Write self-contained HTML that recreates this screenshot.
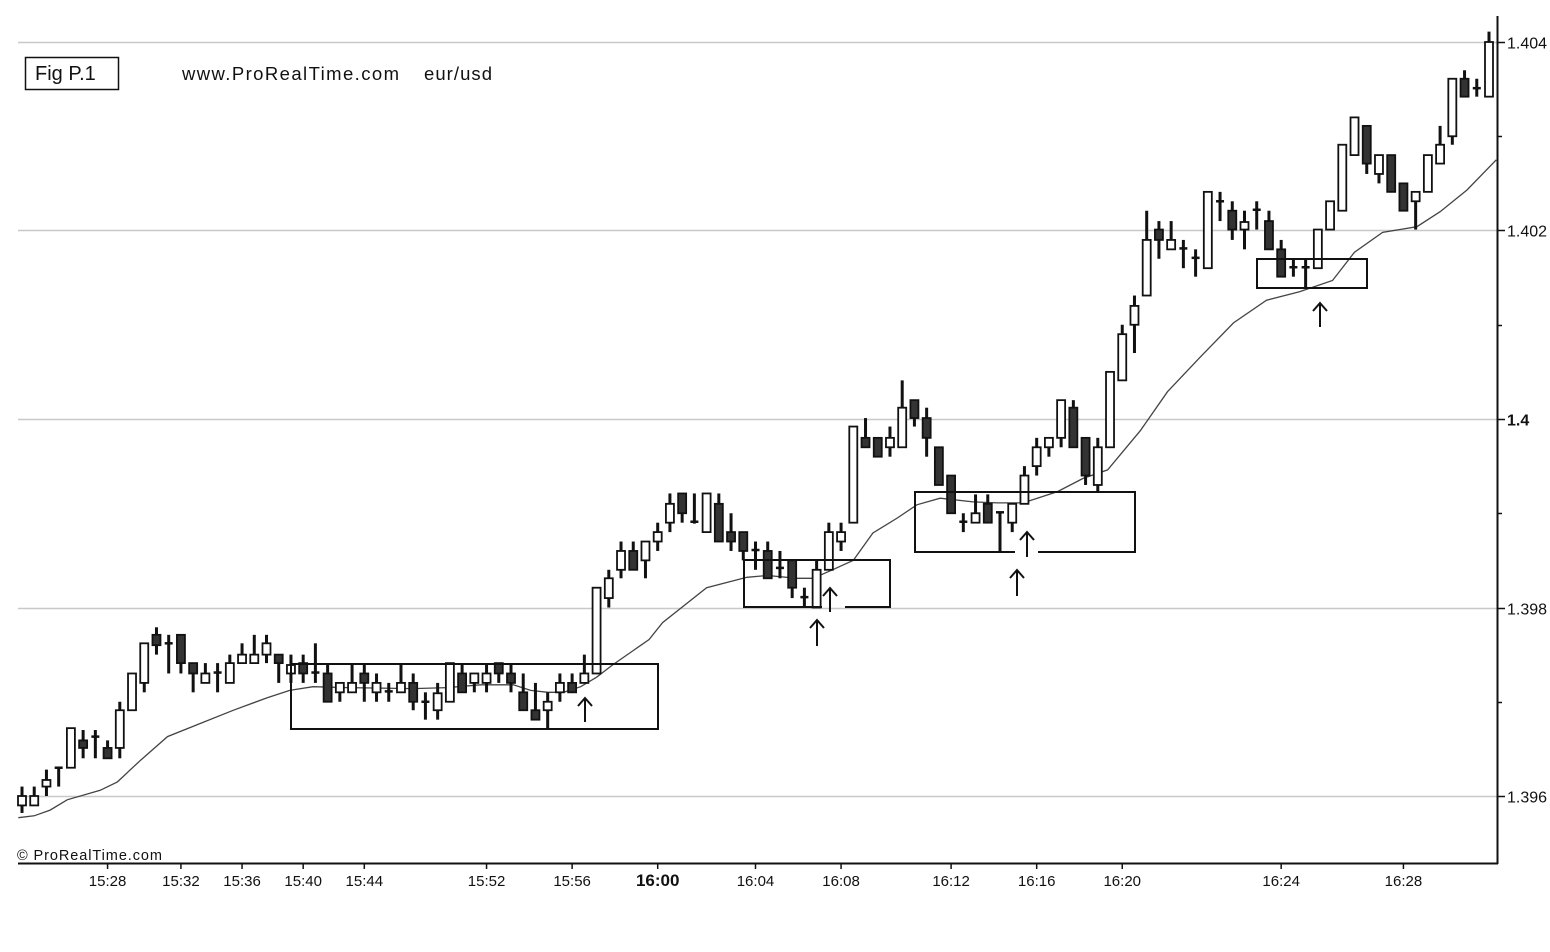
<!DOCTYPE html>
<html><head><meta charset="utf-8"><style>
body{margin:0;background:#fff;}
svg{display:block;font-family:"Liberation Sans",Arial,sans-serif;}
</style></head><body>
<svg id="chart" width="1550" height="952" viewBox="0 0 1550 952" xmlns="http://www.w3.org/2000/svg">
<rect x="0" y="0" width="1550" height="952" fill="#fff"/>
<g id="grid"></g>
<g id="ma"></g>
<g id="candles"></g>
<g id="annot" fill="none" stroke="#111" stroke-width="2">
<path d="M291 664H658V729H291Z"/>
<path d="M822 607H744V560H890V607H845"/>
<path d="M1015 552H915V492H1135V552H1038"/>
<path d="M1257 259H1367V288H1257Z"/>
</g>
<g id="arrows" fill="none" stroke="#111" stroke-width="2"></g>
<g id="axes"></g>
<rect x="25.5" y="57.5" width="93" height="32" fill="#fff" stroke="#111" stroke-width="1.5"/>
<text x="35" y="80" font-size="20" fill="#111">Fig P.1</text>
<text x="182" y="80" font-size="18.5" fill="#111" textLength="217">www.ProRealTime.com</text>
<text x="424" y="80" font-size="18.5" fill="#111" textLength="68">eur/usd</text>
<text x="17" y="860" font-size="14.5" fill="#111" textLength="145">© ProRealTime.com</text>
</svg>
<script>
const opens=[1.39590,1.39590,1.39610,1.39630,1.39630,1.39659,1.39663,1.39651,1.39651,1.39691,1.39720,1.39771,1.39762,1.39771,1.39741,1.39720,1.39731,1.39720,1.39741,1.39741,1.39750,1.39750,1.39730,1.39741,1.39731,1.39730,1.39710,1.39710,1.39730,1.39710,1.39711,1.39710,1.39720,1.39700,1.39691,1.39700,1.39730,1.39720,1.39720,1.39741,1.39730,1.39710,1.39691,1.39691,1.39710,1.39720,1.39720,1.39730,1.39810,1.39840,1.39860,1.39850,1.39870,1.39890,1.39921,1.39890,1.39880,1.39910,1.39880,1.39880,1.39861,1.39860,1.39842,1.39850,1.39811,1.39800,1.39840,1.39870,1.39890,1.39980,1.39980,1.39970,1.39970,1.40020,1.40001,1.39970,1.39940,1.39891,1.39890,1.39910,1.39901,1.39890,1.39910,1.39950,1.39970,1.39980,1.40012,1.39980,1.39930,1.39970,1.40041,1.40100,1.40131,1.40201,1.40180,1.40181,1.40171,1.40160,1.40231,1.40221,1.40201,1.40222,1.40210,1.40180,1.40161,1.40161,1.40160,1.40201,1.40221,1.40280,1.40311,1.40260,1.40280,1.40250,1.40231,1.40241,1.40271,1.40300,1.40361,1.40351,1.40342];
const highs=[1.39610,1.39610,1.39628,1.39630,1.39672,1.39670,1.39670,1.39659,1.39700,1.39730,1.39762,1.39779,1.39771,1.39771,1.39741,1.39741,1.39741,1.39750,1.39762,1.39771,1.39771,1.39750,1.39750,1.39750,1.39762,1.39741,1.39720,1.39741,1.39741,1.39730,1.39720,1.39741,1.39730,1.39710,1.39720,1.39741,1.39741,1.39730,1.39741,1.39741,1.39741,1.39730,1.39720,1.39710,1.39730,1.39730,1.39750,1.39821,1.39840,1.39870,1.39870,1.39870,1.39890,1.39921,1.39921,1.39921,1.39921,1.39921,1.39900,1.39880,1.39870,1.39870,1.39860,1.39850,1.39821,1.39850,1.39890,1.39890,1.39992,1.40001,1.39980,1.39992,1.40041,1.40020,1.40012,1.39970,1.39940,1.39900,1.39920,1.39920,1.39901,1.39910,1.39950,1.39980,1.39980,1.40020,1.40020,1.39980,1.39980,1.40050,1.40100,1.40131,1.40221,1.40210,1.40210,1.40190,1.40180,1.40241,1.40241,1.40231,1.40221,1.40231,1.40221,1.40190,1.40169,1.40169,1.40201,1.40231,1.40291,1.40320,1.40311,1.40280,1.40280,1.40250,1.40241,1.40280,1.40311,1.40361,1.40370,1.40361,1.40411];
const lows=[1.39582,1.39590,1.39600,1.39610,1.39630,1.39640,1.39640,1.39640,1.39640,1.39691,1.39710,1.39750,1.39730,1.39730,1.39710,1.39720,1.39710,1.39720,1.39741,1.39741,1.39741,1.39720,1.39720,1.39720,1.39720,1.39700,1.39700,1.39710,1.39700,1.39700,1.39700,1.39710,1.39691,1.39681,1.39681,1.39700,1.39710,1.39710,1.39710,1.39720,1.39710,1.39691,1.39681,1.39672,1.39700,1.39710,1.39720,1.39730,1.39800,1.39831,1.39840,1.39831,1.39860,1.39880,1.39890,1.39889,1.39880,1.39870,1.39860,1.39850,1.39840,1.39831,1.39831,1.39810,1.39800,1.39800,1.39840,1.39860,1.39890,1.39970,1.39960,1.39960,1.39970,1.39992,1.39960,1.39930,1.39900,1.39880,1.39890,1.39890,1.39859,1.39880,1.39910,1.39940,1.39960,1.39970,1.39970,1.39930,1.39923,1.39970,1.40041,1.40070,1.40131,1.40170,1.40180,1.40160,1.40151,1.40160,1.40210,1.40190,1.40180,1.40201,1.40180,1.40151,1.40151,1.40139,1.40160,1.40201,1.40221,1.40280,1.40260,1.40250,1.40241,1.40221,1.40201,1.40241,1.40271,1.40291,1.40342,1.40342,1.40342];
const closes=[1.39600,1.39600,1.39617,1.39629,1.39672,1.39651,1.39663,1.39640,1.39691,1.39730,1.39762,1.39760,1.39762,1.39741,1.39730,1.39730,1.39731,1.39741,1.39750,1.39750,1.39762,1.39741,1.39739,1.39730,1.39731,1.39700,1.39720,1.39720,1.39720,1.39720,1.39711,1.39720,1.39700,1.39700,1.39709,1.39741,1.39710,1.39730,1.39730,1.39730,1.39720,1.39691,1.39681,1.39700,1.39720,1.39710,1.39730,1.39821,1.39831,1.39860,1.39840,1.39870,1.39880,1.39910,1.39900,1.39891,1.39921,1.39870,1.39870,1.39860,1.39860,1.39831,1.39842,1.39821,1.39811,1.39840,1.39880,1.39880,1.39992,1.39970,1.39960,1.39980,1.40012,1.40001,1.39980,1.39930,1.39900,1.39891,1.39900,1.39890,1.39901,1.39910,1.39940,1.39970,1.39980,1.40020,1.39970,1.39940,1.39970,1.40050,1.40090,1.40120,1.40190,1.40190,1.40190,1.40181,1.40171,1.40241,1.40231,1.40201,1.40209,1.40222,1.40180,1.40151,1.40161,1.40161,1.40201,1.40231,1.40291,1.40320,1.40271,1.40280,1.40241,1.40221,1.40241,1.40280,1.40291,1.40361,1.40342,1.40351,1.40400];
const maIndex=[-0.3,1,2.3,3.7,6.4,7.8,9.7,11.9,14.6,17.3,20,21.9,23.8,26.6,32,34.8,37.5,40.2,41.6,43,44.3,45.7,47,48.3,51.3,52.4,56,59.3,61,63.4,64.7,66.3,68,69.6,71.6,73.2,75.1,77.8,79.8,81.9,84.7,86.8,88.8,91.5,93.7,96.4,99.1,101.8,104.5,107.2,109,111.3,114.1,116,118.2,120.6];
const maValues=[1.39577,1.39579,1.39585,1.39596,1.39606,1.39615,1.39638,1.39663,1.39677,1.39691,1.39704,1.39712,1.39716,1.39715,1.39714,1.39715,1.39718,1.39718,1.39712,1.39710,1.39710,1.39716,1.39726,1.39739,1.39766,1.39784,1.39821,1.39832,1.39834,1.39831,1.39831,1.39840,1.39850,1.39879,1.39895,1.39909,1.39916,1.39912,1.39911,1.39911,1.39923,1.39937,1.39946,1.39988,1.40029,1.40066,1.40102,1.40126,1.40135,1.40147,1.40177,1.40198,1.40204,1.40220,1.40243,1.40275];
const yTicks=[1.396,1.397,1.398,1.399,1.4,1.401,1.402,1.403,1.404];
const yTickLabels=["1.396","","1.398","","1.4","","1.402","","1.404"];
const xTickIndex=[7,13,18,23,28,38,45,52,60,67,76,83,90,103,113];
const xTickLabels=["15:28","15:32","15:36","15:40","15:44","15:52","15:56","16:00","16:04","16:08","16:12","16:16","16:20","16:24","16:28"];

const NS="http://www.w3.org/2000/svg";
function yScale(v){return 419-(v-1.4)*94250;}
function xScale(i){return 22+i*12.225;}
function mk(tag,attrs,parent){const e=document.createElementNS(NS,tag);for(const k in attrs)e.setAttribute(k,attrs[k]);parent.appendChild(e);return e;}

const grid=document.getElementById('grid'),axes=document.getElementById('axes');
yTicks.forEach((v,i)=>{
  const y=Math.round(yScale(v))+0.5;
  if(yTickLabels[i]){
    const g=mk('line',{x1:18,x2:1497,y1:y,y2:y,stroke:'#c8c8c8','stroke-width':1.5},grid);
    
    
  }
  const t=mk('line',{x1:1497,x2:yTickLabels[i]?1505:1502,y1:y,y2:y,stroke:'#111','stroke-width':1.5},axes);
  
  
  if(yTickLabels[i]){
    const tx=mk('text',{x:1507,y:y+6,'font-size':16,fill:'#111','font-weight':yTickLabels[i]==='1.4'?'bold':'normal'},axes);
    tx.textContent=yTickLabels[i];
    
    
  }
});
const ax1=mk('line',{x1:1497.5,x2:1497.5,y1:16,y2:864,stroke:'#111','stroke-width':2},axes);


const ax2=mk('line',{x1:18,x2:1498,y1:863.5,y2:863.5,stroke:'#111','stroke-width':2},axes);


xTickIndex.forEach((idx,i)=>{
  const x=xScale(idx);
  const t=mk('line',{x1:x,x2:x,y1:863,y2:869,stroke:'#111','stroke-width':1.5},axes);
  
  
  const tx=mk('text',{x:x,y:886,'font-size':15,fill:'#111','text-anchor':'middle','font-weight':xTickLabels[i]==='16:00'?'bold':'normal'},axes);
  if(xTickLabels[i]==='16:00')tx.setAttribute('font-size',17);
  tx.textContent=xTickLabels[i];
  
  
});

const ma=document.getElementById('ma');
const pts=maIndex.map((idx,i)=>xScale(idx).toFixed(1)+','+yScale(maValues[i]).toFixed(1)).join(' ');
const ml=mk('polyline',{points:pts,fill:'none',stroke:'#444','stroke-width':1.3},ma);



const cg=document.getElementById('candles');
opens.forEach((o,i)=>{
  const x=xScale(i),c=closes[i];
  const g=mk('g',{},cg);
  
  
  mk('line',{x1:x,x2:x,y1:yScale(highs[i]),y2:yScale(lows[i]),stroke:'#111','stroke-width':3},g);
  const top=yScale(Math.max(o,c)),bot=yScale(Math.min(o,c));
  const h=Math.max(bot-top,1);
  if(h<3){
    mk('line',{x1:x-4,x2:x+4,y1:top,y2:top,stroke:'#111','stroke-width':2.5},g);
  }else{
    mk('rect',{x:x-4,y:top,width:8,height:h,fill:c>=o?'#fff':'#333',stroke:'#111','stroke-width':1.8},g);
  }
});

const arrows=[[585,698,722],[817,620,646],[830,588,612],[1017,570,596],[1027,532,557],[1320,303,327]];
const ag=document.getElementById('arrows');
arrows.forEach(a=>{
  const p=mk('path',{d:`M${a[0]} ${a[2]}V${a[1]}M${a[0]-7} ${a[1]+8}L${a[0]} ${a[1]}L${a[0]+7} ${a[1]+8}`},ag);
  
  
});
</script>
</body></html>
